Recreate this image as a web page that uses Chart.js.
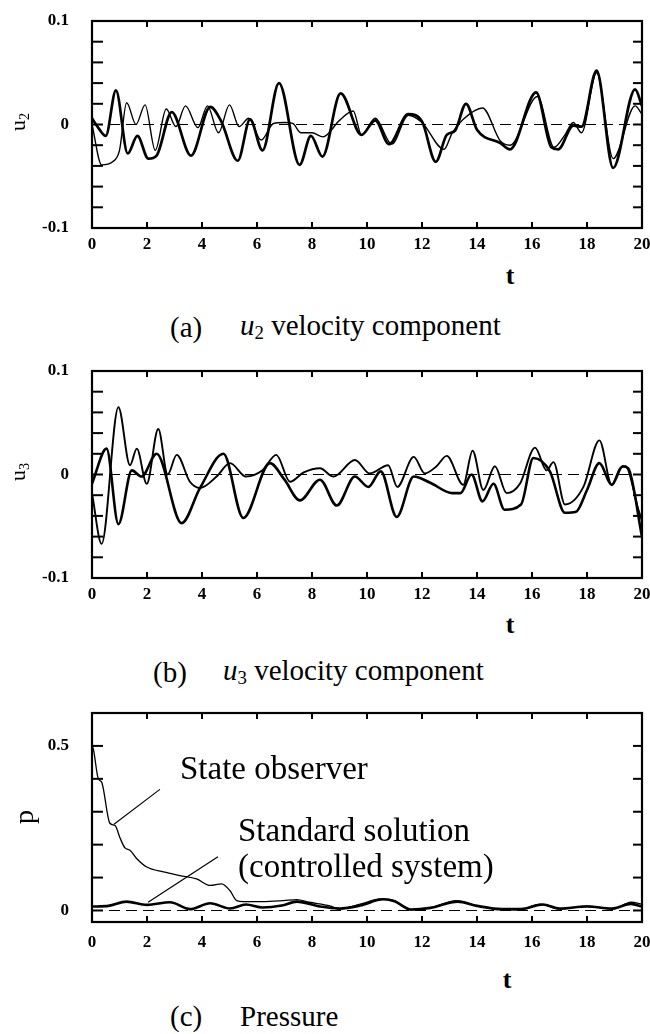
<!DOCTYPE html>
<html><head><meta charset="utf-8">
<script src="https://cdn.jsdelivr.net/npm/chart.js@4/dist/chart.umd.min.js"></script>
<style>
html,body{margin:0;padding:0;background:#fff;}
#page{position:relative;width:650px;height:1034px;overflow:hidden;font-family:"Liberation Serif","Times New Roman",serif;color:#000;background:#fff;}
canvas{position:absolute;left:0;}
.lbl{position:absolute;white-space:nowrap;line-height:1;}
.rot{transform:translate(-50%,-50%) rotate(-90deg);}
.vc{transform:translateY(-50%);}
.cap{font-size:29px;}
.tt{font-weight:bold;font-size:26px;transform:translate(-50%,-50%);}
.ann{font-size:33px;}
sub{font-size:0.65em;vertical-align:-0.25em;}
</style></head>
<body><div id="page">
<canvas id="ca" width="650" height="258" style="top:0px"></canvas>
<canvas id="cb" width="650" height="258" style="top:350px"></canvas>
<canvas id="cc" width="650" height="260" style="top:692px"></canvas>

<div class="lbl rot" style="left:19px;top:122px;font-size:22px">u<sub>2</sub></div>
<div class="lbl tt" style="left:510px;top:276px">t</div>
<div class="lbl cap vc" style="left:170px;top:327px">(a)</div>
<div class="lbl cap vc" style="left:240px;top:327px"><i>u</i><sub>2</sub> velocity component</div>

<div class="lbl rot" style="left:19px;top:472px;font-size:22px">u<sub>3</sub></div>
<div class="lbl tt" style="left:510px;top:625px">t</div>
<div class="lbl cap vc" style="left:153px;top:672px">(b)</div>
<div class="lbl cap vc" style="left:223px;top:672px"><i>u</i><sub>3</sub> velocity component</div>

<div class="lbl rot" style="left:24px;top:817px;font-size:28px">p</div>
<div class="lbl ann vc" style="left:180px;top:768px">State observer</div>
<div class="lbl ann vc" style="left:238px;top:830px">Standard solution</div>
<div class="lbl ann vc" style="left:238px;top:866px">(controlled system)</div>
<div class="lbl tt" style="left:507px;top:980px">t</div>
<div class="lbl cap vc" style="left:170px;top:1016px">(c)</div>
<div class="lbl cap vc" style="left:240px;top:1016px">Pressure</div>
</div>
<script>
// ---------- data ----------
const xTicks = [0,2,4,6,8,10,12,14,16,18,20];
const xTickLabels = ['0','2','4','6','8','10','12','14','16','18','20'];
const yMinorAB = [-0.08,-0.06,-0.04,-0.02,0,0.02,0.04,0.06,0.08];
const yMinorC = [0,0.1,0.2,0.3,0.4,0.5];
const yTickValsAB = [-0.1,0,0.1];
const yTickLabelsAB = ['-0.1','0','0.1'];
const yTickValsC = [0,0.5];
const yTickLabelsC = ['0','0.5'];
const tZero = [0,20];
const vZero = [0,0];

// (a) u2
const tA_thick = [0,0.25,0.5,0.87,1.3,1.65,2.05,2.35,2.9,3.6,4.3,4.7,5.3,5.75,6.2,6.8,7.55,7.96,8.38,9.04,9.8,10.3,10.8,11.5,12.0,12.5,12.9,13.2,13.6,14.0,14.85,15.2,16.15,16.7,16.95,17.5,17.8,18.35,18.95,19.75,20];
const vA_thick = [0.006,-0.004,-0.011,0.033,-0.028,-0.011,-0.033,-0.030,0.012,-0.030,0.017,0.003,-0.035,0.005,-0.025,0.040,-0.039,-0.011,-0.031,0.030,-0.010,0.004,-0.019,0.010,0.003,-0.036,-0.010,-0.006,0.020,-0.005,-0.018,-0.024,0.031,-0.022,-0.024,-0.001,-0.002,0.052,-0.042,0.034,0.018];
const tA_thin = [0,0.35,0.75,1.0,1.26,1.6,1.93,2.3,2.7,3.05,3.4,3.85,4.2,4.6,5.0,5.35,5.7,6.15,6.6,7.0,7.3,7.6,8.0,8.4,9.0,9.5,9.8,10.3,10.9,11.5,12.0,12.8,13.1,13.5,14.2,14.85,15.2,16.2,16.8,17.2,17.5,17.8,18.35,18.95,19.75,20];
const vA_thin = [0.0,-0.039,-0.036,-0.025,0.021,0.0,0.019,-0.025,0.015,-0.002,0.018,-0.003,0.018,-0.008,0.019,-0.002,0.006,-0.015,0.001,0.002,0.001,-0.008,-0.008,-0.012,0.004,0.013,-0.010,0.006,-0.019,0.009,0.002,-0.024,-0.008,0.005,0.016,-0.016,-0.020,0.027,-0.022,-0.010,0.002,-0.008,0.050,-0.033,0.018,0.010];

// (b) u3
const tB_thick = [0,0.53,0.96,1.45,1.8,2.35,3.26,3.93,4.78,5.5,6.47,7.0,7.56,8.29,8.9,9.56,10.05,10.5,11.08,11.7,12.3,13.1,13.4,13.8,14.2,14.6,15.0,15.6,16.05,16.65,17.2,17.6,18.0,18.45,18.9,19.3,19.5,20];
const vB_thick = [-0.009,0.025,-0.048,0.004,-0.002,0.020,-0.047,-0.013,0.020,-0.042,0.011,-0.005,-0.025,-0.005,-0.030,-0.002,-0.012,0.003,-0.041,-0.002,-0.008,-0.018,-0.018,0.000,-0.026,-0.009,-0.034,-0.029,0.016,0.003,-0.037,-0.036,-0.015,0.011,-0.010,0.008,0.006,-0.060];
const tB_thin = [0,0.35,0.96,1.38,1.63,1.99,2.41,2.75,3.08,3.56,3.93,4.53,5.02,5.6,6.2,6.7,7.2,7.7,8.29,8.78,9.56,10.1,10.77,11.1,11.7,12.1,12.53,12.9,13.5,13.84,14.23,14.65,15.08,15.56,16.11,16.53,16.78,17.2,17.87,18.45,18.9,19.2,19.4,19.87,20];
const vB_thin = [-0.018,-0.067,0.065,0.009,0.025,-0.009,0.044,0.0,0.019,-0.007,-0.013,-0.002,0.011,-0.002,0.004,0.019,-0.007,0.002,0.006,-0.002,0.014,0.001,0.009,-0.012,0.017,0.001,0.008,0.018,-0.010,0.023,-0.015,0.008,-0.018,-0.009,0.026,0.004,0.012,-0.029,-0.012,0.033,-0.010,0.006,0.008,-0.034,-0.045];

// (c) pressure
const tC_obs = [0,0.05,0.23,0.35,0.65,0.84,1.02,1.2,1.38,1.63,1.99,2.6,3.2,3.8,4.3,4.71,5.02,5.26,5.5,6.2,6.96,7.45,7.9,8.65,9.0,9.75,10.5,11.0,11.57,12.3,13.26,13.99,14.85,15.5,16.3,17.0,18.0,18.96,19.6,20];
const vC_obs = [0.50,0.49,0.40,0.39,0.265,0.258,0.22,0.19,0.183,0.157,0.132,0.117,0.106,0.096,0.076,0.081,0.06,0.03,0.027,0.027,0.030,0.033,0.025,0.014,0.004,0.019,0.035,0.030,0.002,0.008,0.030,0.014,0.004,0.002,0.019,0.004,0.014,0.004,0.025,0.019];
const tC_std = [0,0.6,1.25,2.0,2.84,3.56,4.3,5.02,5.6,6.2,6.9,7.45,8.3,9.0,9.75,10.6,11.0,11.6,12.3,13.3,14.0,14.9,15.6,16.4,17.0,18.0,18.9,19.6,20];
const vC_std = [0.012,0.014,0.027,0.017,0.025,0.004,0.022,0.006,0.018,0.009,0.015,0.027,0.012,0.006,0.015,0.034,0.028,0.003,0.008,0.027,0.014,0.004,0.004,0.018,0.006,0.012,0.006,0.020,0.012];

// leader lines for the annotations (t, p pairs: text end -> curve end)
const leaderObs = [[2.47,0.368],[0.8,0.262]];
const leaderStd = [[4.58,0.163],[2.04,0.025]];

// ---------- building ----------
const pts = (ts, vs) => ts.map((t,i) => ({x:t, y:vs[i]}));
const FONT = '"Liberation Serif","Times New Roman",serif';

const framePlugin = {
  id: 'frame',
  afterDatasetsDraw(chart, args, o) {
    const {ctx, chartArea:a, scales:{x, y}} = chart;
    ctx.save();
    ctx.strokeStyle = '#000';
    ctx.lineCap = 'butt';
    const ln = (x1,y1,x2,y2) => { ctx.beginPath(); ctx.moveTo(x1,y1); ctx.lineTo(x2,y2); ctx.stroke(); };
    ctx.lineWidth = 2;
    for (const t of o.xTicks) {
      const px = x.getPixelForValue(t);
      if (px <= a.left + 1 || px >= a.right - 1) continue;
      ln(px, a.top, px, a.top + 6);
      ln(px, a.bottom, px, a.bottom - 6);
    }
    for (const v of o.yTicks) {
      const py = y.getPixelForValue(v);
      if (py <= a.top + 1 || py >= a.bottom - 1) continue;
      ln(a.left, py, a.left + 11, py);
      ln(a.right, py, a.right - 9, py);
    }
    ctx.lineWidth = 2.2;
    ctx.strokeRect(a.left, a.top, a.right - a.left, a.bottom - a.top);
    if (o.leaders) {
      ctx.lineWidth = 1.2;
      for (const L of o.leaders) {
        ln(x.getPixelForValue(L[0][0]), y.getPixelForValue(L[0][1]),
           x.getPixelForValue(L[1][0]), y.getPixelForValue(L[1][1]));
      }
    }
    // tick labels
    ctx.fillStyle = '#000';
    ctx.font = 'bold 17px ' + FONT;
    ctx.textAlign = 'center';
    ctx.textBaseline = 'middle';
    o.xTicks.forEach((t, i) => ctx.fillText(o.xLabels[i], x.getPixelForValue(t), a.bottom + o.xOff));
    ctx.textAlign = 'right';
    o.yVals.forEach((v, i) => ctx.fillText(o.yLabels[i], a.left - 23, y.getPixelForValue(v)));
    ctx.restore();
  }
};

function makeChart(id, datasets, yMin, yMax, yMinor, yVals, yLabels, xOff, leaders) {
  return new Chart(document.getElementById(id), {
    type: 'line',
    data: { datasets },
    options: {
      responsive: false,
      maintainAspectRatio: false,
      animation: false,
      devicePixelRatio: 1,
      layout: { padding: { left: 0, top: 21, right: 8, bottom: 0 } },
      plugins: { legend: { display: false }, tooltip: { enabled: false },
        frame: { xTicks: xTicks, xLabels: xTickLabels, yTicks: yMinor, yVals: yVals, yLabels: yLabels, xOff: xOff, leaders: leaders } },
      elements: { point: { radius: 0 }, line: { cubicInterpolationMode: 'monotone' } },
      scales: {
        x: {
          type: 'linear', min: 0, max: 20,
          grid: { display: false, drawTicks: false }, border: { display: false },
          ticks: { display: false, padding: 0 },
          afterFit: (s) => { s.height = 30; s.paddingLeft = 0; s.paddingRight = 0; }
        },
        y: {
          type: 'linear', min: yMin, max: yMax,
          grid: { display: false, drawTicks: false }, border: { display: false },
          ticks: { display: false, padding: 0 },
          afterFit: (s) => { s.width = 92; s.paddingTop = 0; s.paddingBottom = 0; }
        }
      }
    },
    plugins: [framePlugin]
  });
}

const line = (d, w) => ({ data: d, borderColor: '#000', borderWidth: w, pointRadius: 0, fill: false });
const dashed = (d) => ({ data: d, borderColor: '#000', borderWidth: 1.2, borderDash: [11, 6], pointRadius: 0, fill: false, cubicInterpolationMode: 'default', tension: 0 });

makeChart('ca', [dashed(pts(tZero, vZero)), line(pts(tA_thin, vA_thin), 1.4), line(pts(tA_thick, vA_thick), 2.7)],
  -0.1, 0.1, yMinorAB, yTickValsAB, yTickLabelsAB, 17, null);
makeChart('cb', [dashed(pts(tZero, vZero)), line(pts(tB_thin, vB_thin), 1.9), line(pts(tB_thick, vB_thick), 2.6)],
  -0.1, 0.1, yMinorAB, yTickValsAB, yTickLabelsAB, 17, null);
makeChart('cc', [dashed(pts(tZero, vZero)), line(pts(tC_obs, vC_obs), 1.3), line(pts(tC_std, vC_std), 2.6)],
  -0.035, 0.6, yMinorC, yTickValsC, yTickLabelsC, 21, [leaderObs, leaderStd]);
</script>
</body></html>
